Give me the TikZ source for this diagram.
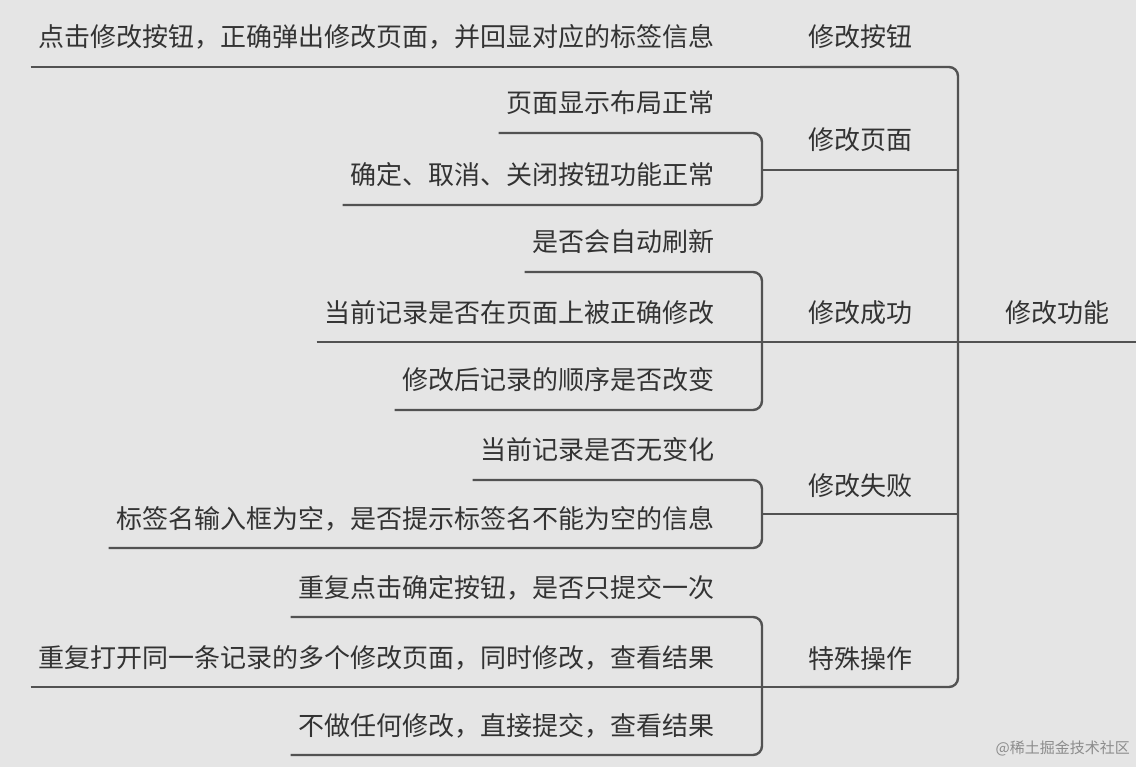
\documentclass[tikz,border=0pt]{standalone}
\usepackage{fontspec}
\setmainfont{Noto Sans CJK SC}
\begin{document}
\begin{tikzpicture}[x=1pt,y=-1pt,
  ln/.style={draw=black!68,line width=2.4pt,rounded corners=9pt},
  leaf/.style={anchor=base east,inner sep=0pt,font=\fontsize{26}{30}\selectfont,text=black!80},
  br/.style={anchor=base west,inner sep=0pt,font=\fontsize{26}{30}\selectfont,text=black!80}]
\fill[black!10] (0,0) rectangle (1136,767);
\useasboundingbox (0,0) rectangle (1136,767);
% root
\node[br] (root) at (1005,323) {修改功能};
% branches
\node[br] (b1) at (808,47) {修改按钮};
\node[br] (b2) at (808,150) {修改页面};
\node[br] (b3) at (808,323) {修改成功};
\node[br] (b4) at (808,495) {修改失败};
\node[br] (b5) at (808,668) {特殊操作};
% leaves
\node[leaf] (l1) at (715,47) {点击修改按钮，正确弹出修改页面，并回显对应的标签信息};
\node[leaf] (l21) at (715,113) {页面显示布局正常};
\node[leaf] (l22) at (715,185) {确定、取消、关闭按钮功能正常};
\node[leaf] (l31) at (715,252) {是否会自动刷新};
\node[leaf] (l32) at (715,323) {当前记录是否在页面上被正确修改};
\node[leaf] (l33) at (715,390) {修改后记录的顺序是否改变};
\node[leaf] (l41) at (715,460) {当前记录是否无变化};
\node[leaf] (l42) at (715,528) {标签名输入框为空，是否提示标签名不能为空的信息};
\node[leaf] (l51) at (715,597) {重复点击确定按钮，是否只提交一次};
\node[leaf] (l52) at (715,667) {重复打开同一条记录的多个修改页面，同时修改，查看结果};
\node[leaf] (l53) at (715,735) {不做任何修改，直接提交，查看结果};
% root connector
\draw[ln] (1136,342) -- (958,342);
\draw[ln] (800,67) -- (958,67) -- (958,687) -- (800,687);
\draw[ln] (800,170) -- (958,170);
\draw[ln] (800,514) -- (958,514);
\draw[ln] (800,342) -- (958,342);
% branch 1
\draw[ln] ([shift={(-8,20)}]l1.base west) -- (800,67);
% branch 2
\draw[ln] ([shift={(-8,20)}]l21.base west) -- (762,133) -- (762,205) -- ([shift={(-8,20)}]l22.base west);
\draw[ln] (762,170) -- (800,170);
% branch 3
\draw[ln] ([shift={(-8,20)}]l31.base west) -- (762,272) -- (762,410) -- ([shift={(-8,20)}]l33.base west);
\draw[ln] ([shift={(-8,19)}]l32.base west) -- (800,342);
% branch 4
\draw[ln] ([shift={(-8,20)}]l41.base west) -- (762,480) -- (762,548) -- ([shift={(-8,20)}]l42.base west);
\draw[ln] (762,514) -- (800,514);
% branch 5
\draw[ln] ([shift={(-8,20)}]l51.base west) -- (762,617) -- (762,755) -- ([shift={(-8,20)}]l53.base west);
\draw[ln] ([shift={(-8,20)}]l52.base west) -- (800,687);
% watermark
\node[anchor=base east,inner sep=0pt,font=\fontsize{15}{18}\selectfont,text=black!45] (wm) at (1130,753) {@稀土掘金技术社区};
\end{tikzpicture}
\end{document}
